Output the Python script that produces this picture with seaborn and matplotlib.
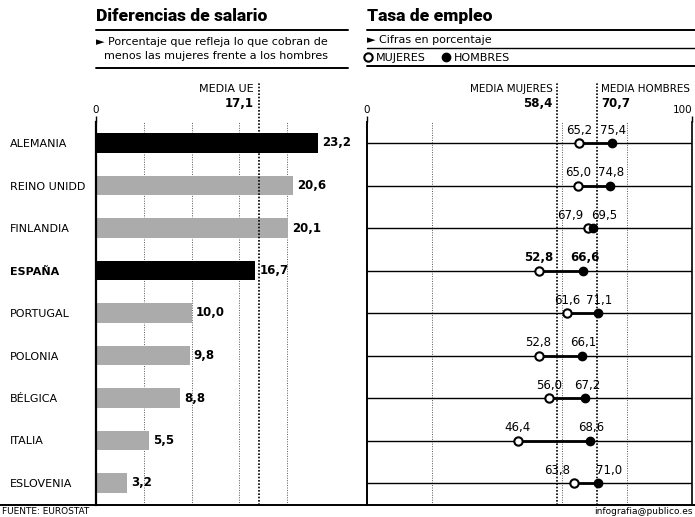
import matplotlib
matplotlib.use("Agg")
import matplotlib.pyplot as plt
import numpy as np
import pandas as pd
import seaborn as sns
from matplotlib.lines import Line2D

# datos
paises = ["ALEMANIA", "REINO UNIDD", "FINLANDIA", "ESPAÑA", "PORTUGAL",
          "POLONIA", "BÉLGICA", "ITALIA", "ESLOVENIA"]
salario = [23.2, 20.6, 20.1, 16.7, 10.0, 9.8, 8.8, 5.5, 3.2]
mujeres = [65.2, 65.0, 67.9, 52.8, 61.6, 52.8, 56.0, 46.4, 63.8]
hombres = [75.4, 74.8, 69.5, 66.6, 71.1, 66.1, 67.2, 68.6, 71.0]
destacados = ["ALEMANIA", "ESPAÑA"]
media_ue = 17.1
media_mujeres = 58.4
media_hombres = 70.7

sns.set_style("white")
plt.rcParams["font.family"] = ["DejaVu Sans"]
plt.rcParams["axes.linewidth"] = 1.2
plt.rcParams["text.color"] = "black"
plt.rcParams["xtick.color"] = "black"
plt.rcParams["ytick.color"] = "black"
plt.rcParams["axes.edgecolor"] = "black"

W, H = 695, 517
fig = plt.figure(figsize=(W / 100, H / 100), dpi=100)


def fx(x):
    return x / W


def fy(y):
    return 1 - y / H


def coma(v):
    return f"{v:.1f}".replace(".", ",")


df = pd.DataFrame({"pais": paises, "salario": salario,
                   "mujeres": mujeres, "hombres": hombres})
colores = {p: ("black" if p in destacados else "#ababab") for p in paises}

top, bottom = 122, 505
ylim = (8 + (bottom - 483) / 42.5, -(143 - top) / 42.5)

# --- panel izquierdo: diferencias de salario
ax1 = fig.add_axes([fx(96), fy(bottom), fx(345 - 96), (bottom - top) / H])
sns.barplot(data=df, x="salario", y="pais", hue="pais", palette=colores,
            width=0.47, legend=False, ax=ax1, saturation=1, edgecolor="none")
ax1.set_xlim(0, (345 - 96) / 9.55)
ax1.set_ylim(*ylim)
ax1.set_xlabel("")
ax1.set_ylabel("")
for s in ["top", "right", "bottom"]:
    ax1.spines[s].set_visible(False)
ax1.spines["left"].set_linewidth(1.6)
ax1.xaxis.tick_top()
ax1.set_xticks([0])
ax1.set_xticks([5, 10, 15, 20], minor=True)
ax1.tick_params(axis="x", which="major", length=4, width=1, pad=1, labelsize=7.5)
ax1.tick_params(axis="x", which="minor", length=0)
ax1.grid(axis="x", which="minor", color="#555555", ls=(0, (1, 1.5)), lw=0.7)
ax1.set_axisbelow(True)
ax1.tick_params(axis="y", length=0, pad=62, labelsize=8)
for lab in ax1.get_yticklabels():
    lab.set_horizontalalignment("left")
    if lab.get_text() in destacados[1:]:
        lab.set_fontweight("bold")

for i, v in enumerate(salario):
    ax1.annotate(coma(v), (v, i), xytext=(3, 0), textcoords="offset points",
                 va="center", ha="left", fontsize=8.5, fontweight="bold")

ax1.axvline(media_ue, ymin=0, ymax=(bottom - 83) / (bottom - top), clip_on=False,
            color="black", ls=(0, (1, 1)), lw=1.2)
ax1.annotate("MEDIA UE", (media_ue, 1), xycoords=("data", "axes fraction"),
             xytext=(-4, 24), textcoords="offset points", ha="right", va="center",
             fontsize=8)
ax1.annotate(coma(media_ue), (media_ue, 1), xycoords=("data", "axes fraction"),
             xytext=(-4, 13.5), textcoords="offset points", ha="right", va="center",
             fontsize=8.5, fontweight="bold")

# --- panel derecho: tasa de empleo
ax2 = fig.add_axes([fx(367), fy(bottom), fx(692 - 367), (bottom - top) / H])
idx = np.arange(len(paises))
ax2.hlines(idx, df["mujeres"], df["hombres"], color="black", lw=2, zorder=3)
sns.stripplot(data=df, x="mujeres", y="pais", jitter=False, ax=ax2, size=6,
              color="white", edgecolor="black", linewidth=1.5, zorder=4)
sns.stripplot(data=df, x="hombres", y="pais", jitter=False, ax=ax2, size=6,
              color="black", edgecolor="black", linewidth=1, zorder=4)
ax2.set_xlim(0, 100)
ax2.set_ylim(*ylim)
ax2.set_xlabel("")
ax2.set_ylabel("")
ax2.spines["top"].set_visible(False)
ax2.spines["bottom"].set_visible(False)
ax2.spines["left"].set_linewidth(1.4)
ax2.xaxis.tick_top()
ax2.set_xticks([0, 100])
ax2.set_xticks([20, 60, 80], minor=True)
ax2.tick_params(axis="x", which="major", length=4, width=1, pad=1, labelsize=7.5)
ax2.tick_params(axis="x", which="minor", length=0)
ax2.get_xticklabels()[-1].set_horizontalalignment("right")
ax2.tick_params(axis="y", length=0, labelleft=False)
ax2.grid(axis="y", color="black", lw=1)
ax2.grid(axis="x", which="minor", color="#555555", ls=(0, (1, 1.5)), lw=0.7)
ax2.set_axisbelow(True)

for i, (m, h) in enumerate(zip(mujeres, hombres)):
    peso = "bold" if paises[i] in destacados[1:] else "normal"
    if h - m < 8:
        # etiquetas separadas cuando los puntos están muy juntos
        ax2.annotate(coma(m), (m, i), xytext=(-3, 4.5), textcoords="offset points",
                     ha="right", va="bottom", fontsize=8.5, fontweight=peso)
        ax2.annotate(coma(h), (h, i), xytext=(-1, 4.5), textcoords="offset points",
                     ha="left", va="bottom", fontsize=8.5, fontweight=peso)
    else:
        ax2.annotate(coma(m), (m, i), xytext=(0, 4.5), textcoords="offset points",
                     ha="center", va="bottom", fontsize=8.5, fontweight=peso)
        ax2.annotate(coma(h), (h, i), xytext=(1, 4.5), textcoords="offset points",
                     ha="center", va="bottom", fontsize=8.5, fontweight=peso)

for val, lado, nombre in [(media_mujeres, -1, "MEDIA MUJERES"),
                          (media_hombres, 1, "MEDIA HOMBRES")]:
    ax2.axvline(val, ymin=0, ymax=(bottom - 82) / (bottom - top), clip_on=False,
                color="black", ls=(0, (1, 1)), lw=1.2)
    ha = "right" if lado < 0 else "left"
    ax2.annotate(nombre, (val, 1), xycoords=("data", "axes fraction"),
                 xytext=(3 * lado, 24), textcoords="offset points", ha=ha,
                 va="center", fontsize=7.5)
    ax2.annotate(coma(val), (val, 1), xycoords=("data", "axes fraction"),
                 xytext=(3 * lado, 13.5), textcoords="offset points", ha=ha,
                 va="center", fontsize=8.5, fontweight="bold")

# --- cabeceras
fig.text(fx(96), fy(16), "Diferencias de salario", fontsize=12.5, fontweight="heavy",
         va="center", ha="left", family=["Roboto", "DejaVu Sans"])
fig.text(fx(96), fy(42), "► Porcentaje que refleja lo que cobran de",
         fontsize=8, va="center", ha="left")
fig.text(fx(104), fy(56), "menos las mujeres frente a los hombres",
         fontsize=8, va="center", ha="left")
fig.text(fx(367), fy(16), "Tasa de empleo", fontsize=12.5, fontweight="heavy",
         va="center", ha="left", family=["Roboto", "DejaVu Sans"])
fig.text(fx(367), fy(40), "► Cifras en porcentaje", fontsize=8,
         va="center", ha="left")

handles = [Line2D([], [], ls="none", marker="o", ms=6, mfc="white", mec="black", mew=1.5),
           Line2D([], [], ls="none", marker="o", ms=6, mfc="black", mec="black")]
fig.legend(handles, ["MUJERES", "HOMBRES"], loc="center left",
           bbox_to_anchor=(fx(364), fy(58)), ncol=2, frameon=False,
           handlelength=0.8, handletextpad=0.3, columnspacing=1.4,
           borderpad=0, borderaxespad=0, fontsize=8)

for y, x0, x1, lw in [(30, 96, 348, 1.4), (68, 96, 348, 1.4),
                      (30, 367, 695, 1.4), (48, 367, 695, 1.0), (66, 367, 695, 1.4),
                      (bottom, 0, 695, 1.4)]:
    fig.add_artist(Line2D([fx(x0), fx(x1)], [fy(y), fy(y)], color="black", lw=lw))

fig.text(fx(2), fy(512), "FUENTE: EUROSTAT", fontsize=6.5, va="center", ha="left")
fig.text(fx(693), fy(512), "infografia@publico.es", fontsize=6.5, va="center", ha="right")

fig.savefig("out.png", dpi=100)
